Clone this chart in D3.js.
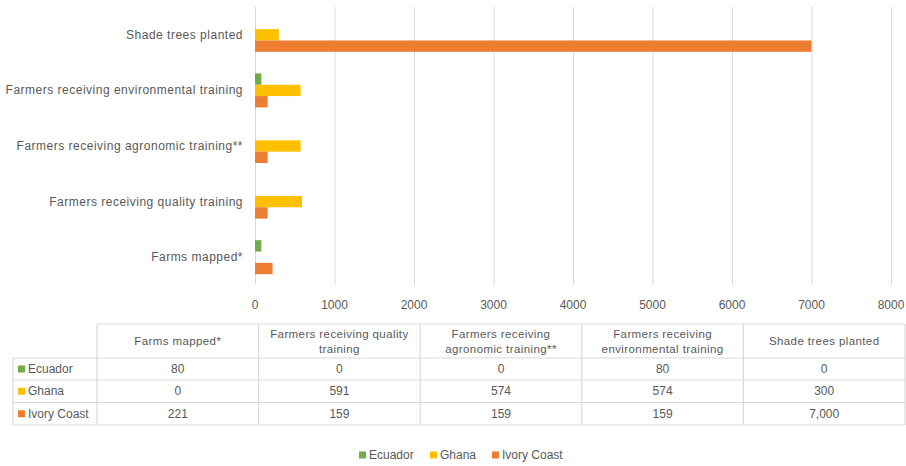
<!DOCTYPE html>
<html>
<head>
<meta charset="utf-8">
<script src="https://cdn.jsdelivr.net/npm/d3@7"></script>
<style>
	body { margin: 0; background: #fff; }
	text { font-family: "Liberation Sans", Arial, sans-serif; fill: #595959; }
</style>
</head>
<body>
<svg id="chart" width="906" height="466"></svg>
<script>

// chart values
var categories = ["Farms mapped*", "Farmers receiving quality training", "Farmers receiving agronomic training**", "Farmers receiving environmental training", "Shade trees planted"];
var headerLines = [["Farms mapped*"], ["Farmers receiving quality", "training"], ["Farmers receiving", "agronomic training**"], ["Farmers receiving", "environmental training"], ["Shade trees planted"]];
var seriesNames = ["Ecuador", "Ghana", "Ivory Coast"];
var ecuador = [80, 0, 0, 80, 0];
var ghana = [0, 591, 574, 574, 300];
var ivoryCoast = [221, 159, 159, 159, 7000];
var xTicks = [0, 1000, 2000, 3000, 4000, 5000, 6000, 7000, 8000];
var colors = ["#70ad47", "#ffc000", "#ed7d31"];

var seriesValues = [ecuador, ghana, ivoryCoast];

const svg = d3.select('#chart');

// plot area
var x = d3.scaleLinear().domain([0, 8000]).range([255, 891]);
// bottom category first in the list, so reverse for top-down band
var y = d3.scaleBand().domain(categories.slice().reverse()).range([7, 285]);
var inner = d3.scaleBand().domain(seriesNames).range([0, 34]);

//Gridlines
svg.append('g').selectAll('line')
	.data(xTicks)
	.enter().append('line')
	.attr('x1', d => x(d) + 0.5)
	.attr('x2', d => x(d) + 0.5)
	.attr('y1', 7)
	.attr('y2', 285)
	.attr('stroke', '#d9d9d9')
	.attr('stroke-width', 1);

//Tick labels
svg.append('g').selectAll('text')
	.data(xTicks)
	.enter().append('text')
	.attr('x', d => x(d))
	.attr('y', 309)
	.attr('text-anchor', 'middle')
	.style('font-size', '12px')
	.text(d => d);

//Bars
seriesNames.forEach(function(name, si) {
	svg.append('g').selectAll('rect')
		.data(categories.map((c, i) => ({cat: c, v: seriesValues[si][i]})))
		.enter().append('rect')
		.attr('x', x(0))
		.attr('y', d => y(d.cat) + y.bandwidth() / 2 - 17 + inner(name))
		.attr('width', d => x(d.v) - x(0))
		.attr('height', inner.bandwidth())
		.attr('fill', colors[si]);
});

//Category labels
svg.append('g').selectAll('text')
	.data(categories)
	.enter().append('text')
	.attr('x', 243)
	.attr('y', d => y(d) + y.bandwidth() / 2 + 4)
	.attr('text-anchor', 'end')
	.style('font-size', '12px')
	.style('letter-spacing', '0.5px')
	.text(d => d);

//Data table
var colX = d3.scaleBand().domain(categories).range([97, 905]);
var rowTops = [324, 358, 380, 402.5, 425];
var tbl = svg.append('g');
var line = (x1, y1, x2, y2) => tbl.append('line')
	.attr('x1', x1).attr('y1', y1).attr('x2', x2).attr('y2', y2)
	.attr('stroke', '#d9d9d9').attr('stroke-width', 1.2);

// horizontal rules
line(97, rowTops[0], 905, rowTops[0]);
for (var r = 1; r < rowTops.length; r++) line(13, rowTops[r], 905, rowTops[r]);
// vertical rules
line(13, rowTops[1], 13, rowTops[4]);
categories.forEach(c => line(colX(c), rowTops[0], colX(c), rowTops[4]));
line(905, rowTops[0], 905, rowTops[4]);

// header text
categories.forEach(function(c, i) {
	var lines = headerLines[i];
	var cy = (rowTops[0] + rowTops[1]) / 2;
	lines.forEach(function(t, li) {
		tbl.append('text')
			.attr('x', colX(c) + colX.bandwidth() / 2)
			.attr('y', cy + 4 + (li - (lines.length - 1) / 2) * 15)
			.attr('text-anchor', 'middle')
			.style('font-size', '11.5px')
			.style('letter-spacing', '0.4px')
			.text(t);
	});
});

// rows
seriesNames.forEach(function(name, si) {
	var cy = (rowTops[si + 1] + rowTops[si + 2]) / 2;
	tbl.append('rect')
		.attr('x', 18).attr('y', cy - 3.5)
		.attr('width', 7).attr('height', 7)
		.attr('fill', colors[si]);
	tbl.append('text')
		.attr('x', 28).attr('y', cy + 4)
		.style('font-size', '12px')
		.text(name);
	categories.forEach(function(c, i) {
		tbl.append('text')
			.attr('x', colX(c) + colX.bandwidth() / 2)
			.attr('y', cy + 4)
			.attr('text-anchor', 'middle')
			.style('font-size', '12px')
			.text(d3.format(',')(seriesValues[si][i]));
	});
});

//Legend
var legendX = [359, 430, 492];
seriesNames.forEach(function(name, si) {
	svg.append('rect')
		.attr('x', legendX[si]).attr('y', 451.5)
		.attr('width', 7).attr('height', 7)
		.attr('fill', colors[si]);
	svg.append('text')
		.attr('x', legendX[si] + 10).attr('y', 459)
		.style('font-size', '12px')
		.text(name);
});

</script>
</body>
</html>
